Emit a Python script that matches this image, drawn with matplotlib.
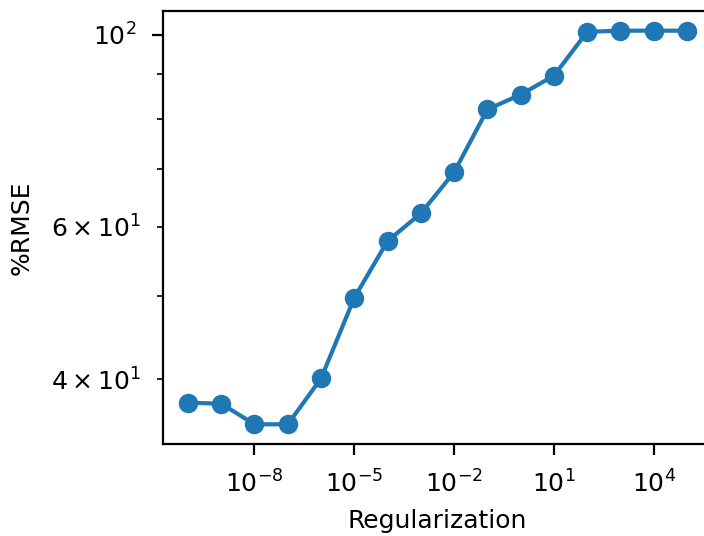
import matplotlib
matplotlib.use("Agg")
import matplotlib.pyplot as plt
import matplotlib.ticker as mticker

reg = [1e-10, 1e-9, 1e-8, 1e-7, 1e-6, 1e-5, 1e-4, 1e-3,
       1e-2, 1e-1, 1e0, 1e1, 1e2, 1e3, 1e4, 1e5]
rmse = [37.6, 37.5, 35.5, 35.5, 40.1, 49.7, 57.8, 62.2,
        69.4, 82.0, 85.3, 89.7, 100.8, 101.1, 101.1, 101.1]

plt.rcParams['font.size'] = 9

dpi = 200
fig = plt.figure(figsize=(704 / dpi, 536 / dpi), dpi=dpi)
ax = fig.add_axes([163 / 704, 1 - 444 / 536, 549 / 704, 433 / 536])

ax.plot(reg, rmse, marker='o', color='#1f77b4')
ax.set_xscale('log')
ax.set_yscale('log')

ax.xaxis.set_major_locator(mticker.FixedLocator([1e-8, 1e-5, 1e-2, 1e1, 1e4]))
ax.xaxis.set_minor_locator(mticker.NullLocator())
ax.tick_params(which='major', length=4, pad=5.5)
ax.tick_params(axis='y', which='minor', pad=6)

ax.set_xlabel('Regularization')
ax.set_ylabel('%RMSE', labelpad=6)

plt.savefig('out.png', dpi=dpi)
